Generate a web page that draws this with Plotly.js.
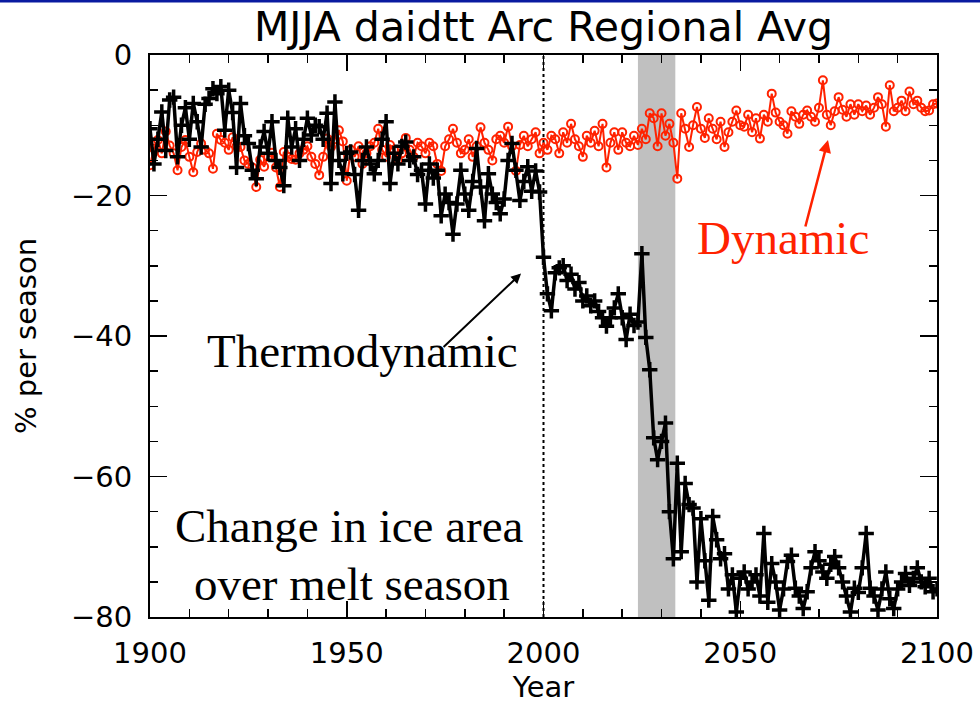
<!DOCTYPE html>
<html>
<head>
<meta charset="utf-8">
<script src="https://cdn.plot.ly/plotly-3.0.1.min.js"></script>
<style>
html,body{margin:0;padding:0;background:#fff;}
#chart{width:980px;height:704px;}
</style>
</head>
<body>
<div id="chart"></div>
<script>
// Years 1900..2100
var years = [];
for (var yr = 1900; yr <= 2100; yr++) { years.push(yr); }

// Thermodynamic (black), % per season
var thermo = [
  -10.5, -15.5, -12.0, -8.1, -13.6, -6.4, -6.0, -14.5, -10.0, -7.5,
  -12.0, -6.9, -9.5, -13.1, -7.0, -6.2, -4.8, -5.5, -4.5, -10.7,
  -5.0, -8.2, -16.0, -6.9, -11.5, -12.6, -16.4, -17.6, -13.1, -10.9,
  -14.0, -9.5, -15.0, -16.0, -18.6, -9.0, -13.1, -10.5, -15.0, -12.0,
  -9.0, -11.4, -10.0, -10.2, -12.0, -8.3, -18.3, -6.7, -15.0, -16.9,
  -14.0, -13.8, -17.0, -22.1, -15.0, -13.1, -15.5, -16.9, -15.0, -12.0,
  -9.5, -18.3, -14.0, -15.5, -13.0, -12.4, -15.0, -14.5, -17.0, -16.4,
  -21.2, -15.5, -17.5, -16.4, -22.9, -19.8, -21.0, -25.5, -21.2, -16.4,
  -19.8, -22.1, -18.0, -13.3, -18.8, -23.6, -16.9, -19.8, -21.0, -22.6,
  -20.5, -15.0, -12.6, -16.4, -20.7, -18.0, -15.9, -19.4, -16.5, -19.5,
  -28.8, -34.0, -36.4, -31.0, -30.3, -30.0, -32.1, -31.2, -33.3, -32.4,
  -35.0, -34.3, -35.7, -35.0, -36.5, -37.4, -38.6, -37.4, -36.0, -34.0,
  -37.4, -40.5, -36.9, -38.5, -38.0, -28.3, -40.2, -44.8, -54.5, -57.6,
  -55.0, -52.4, -65.0, -71.7, -58.1, -70.7, -61.0, -64.0, -64.5, -75.0,
  -66.0, -72.0, -77.6, -65.7, -69.0, -71.7, -71.0, -76.0, -74.0, -79.3,
  -74.5, -73.6, -76.0, -75.0, -74.0, -77.0, -68.1, -77.9, -72.4, -75.0,
  -79.0, -76.0, -72.1, -71.2, -75.9, -77.0, -78.8, -76.4, -73.0, -70.7,
  -72.0, -73.6, -74.5, -72.5, -71.4, -73.0, -75.0, -77.0, -79.3, -75.9,
  -76.5, -73.0, -68.1, -75.9, -77.0, -79.0, -76.0, -73.6, -77.4, -78.8,
  -76.0, -75.0, -73.8, -75.5, -74.5, -73.0, -75.0, -75.7, -74.5, -76.4,
  -76.0
];

// Dynamic (red), % per season
var dynamic = [
  -15.7, -13.3, -12.1, -14.0, -10.9, -12.9, -14.0, -16.4, -13.1, -12.1,
  -14.5, -16.7, -13.8, -12.6, -13.5, -14.0, -16.2, -11.2, -12.1, -12.5,
  -13.5, -11.7, -13.0, -13.1, -15.0, -15.5, -16.0, -18.8, -14.9, -15.9,
  -14.5, -13.9, -16.0, -18.8, -13.8, -14.5, -14.8, -14.9, -14.0, -13.5,
  -13.0, -14.5, -15.5, -17.1, -14.5, -11.9, -13.1, -12.0, -10.7, -12.3,
  -17.9, -13.5, -14.5, -13.0, -15.5, -14.0, -13.0, -12.5, -10.5, -13.5,
  -14.5, -12.8, -13.5, -15.0, -14.0, -11.8, -13.5, -14.5, -12.5, -13.0,
  -14.0, -12.5, -13.0, -15.5, -16.5, -13.0, -12.0, -10.5, -12.5, -14.0,
  -13.5, -12.0, -14.5, -13.0, -10.3, -12.5, -13.5, -15.0, -12.0, -11.5,
  -12.5, -10.2, -13.0, -16.5, -12.8, -11.5, -13.0, -12.0, -11.0, -14.0,
  -12.5, -13.5, -11.5, -12.0, -14.0, -11.0, -12.5, -9.8, -12.0, -13.0,
  -14.5, -11.5, -12.5, -10.8, -13.0, -9.8, -16.0, -12.5, -11.0, -13.5,
  -11.0, -12.5, -13.0, -11.5, -12.8, -10.5, -12.0, -8.3, -9.0, -13.0,
  -8.3, -11.5, -9.8, -12.5, -17.6, -8.3, -10.5, -13.1, -10.0, -7.4,
  -10.5, -11.8, -9.0, -10.5, -12.0, -9.5, -13.1, -11.0, -9.5, -7.9,
  -10.0, -10.2, -8.5, -11.0, -9.0, -11.9, -8.5, -9.5, -5.5, -8.2,
  -9.5, -10.0, -11.2, -8.0, -8.8, -9.8, -8.5, -7.9, -8.8, -9.5,
  -7.5, -3.6, -8.5, -10.0, -8.0, -6.0, -7.8, -8.8, -7.0, -8.5,
  -7.0, -8.0, -7.2, -8.5, -7.5, -6.0, -7.0, -10.2, -4.3, -8.0,
  -7.5, -6.5, -8.0, -5.2, -7.0, -6.5, -7.5, -8.0, -7.9, -7.0,
  -6.9
];

var xTickVals = [1900, 1950, 2000, 2050, 2100];
var xTickText = ['1900', '1950', '2000', '2050', '2100'];
var yTickVals = [0, -20, -40, -60, -80];
var yTickText = ['0', '\u221220', '\u221240', '\u221260', '\u221280'];

var bandStart = 2024, bandEnd = 2033.5;
var markYear = 2000;

var RED = '#ff2200';
var AXFONT = {family: 'DejaVu Sans', size: 29, color: '#000'};
var SERIF = 'Liberation Serif, Times New Roman, serif';

var traces = [
  {
    x: years, y: dynamic, type: 'scatter', mode: 'lines+markers', name: 'Dynamic',
    line: {color: RED, width: 2},
    marker: {symbol: 'circle-open', size: 8, color: RED, line: {color: RED, width: 2}},
    cliponaxis: true
  },
  {
    x: years, y: thermo, type: 'scatter', mode: 'lines+markers', name: 'Thermodynamic',
    line: {color: '#000', width: 3.5},
    marker: {symbol: 'cross-thin-open', size: 11, color: '#000', line: {color: '#000', width: 3.5}},
    cliponaxis: true
  }
];

var layout = {
  width: 980, height: 704,
  margin: {l: 150, r: 43, t: 55, b: 87},
  paper_bgcolor: '#fff', plot_bgcolor: '#fff',
  showlegend: false,
  title: {
    text: 'MJJA daidtt Arc Regional Avg',
    font: {family: 'DejaVu Sans', size: 41, color: '#000'},
    x: 0.5, xref: 'paper', xanchor: 'center',
    y: 0.962, yref: 'container', yanchor: 'middle'
  },
  xaxis: {
    range: [1900, 2100], showgrid: false, zeroline: false,
    showline: true, linecolor: '#000', linewidth: 2, mirror: 'ticks',
    ticks: 'inside', ticklen: 16, tickwidth: 1.5, tickcolor: '#000',
    tickvals: xTickVals, ticktext: xTickText,
    tickfont: AXFONT, ticklabelstandoff: 9,
    minor: {dtick: 10, tick0: 1900, ticks: 'inside', ticklen: 8, tickwidth: 1.5, tickcolor: '#000', showgrid: false},
    title: {text: 'Year', font: AXFONT, standoff: 14}
  },
  yaxis: {
    range: [-80, 0], showgrid: false, zeroline: false,
    showline: true, linecolor: '#000', linewidth: 2, mirror: 'ticks',
    ticks: 'inside', ticklen: 17, tickwidth: 1.5, tickcolor: '#000',
    tickvals: yTickVals, ticktext: yTickText,
    tickfont: AXFONT, ticklabelstandoff: 10,
    minor: {dtick: 5, tick0: 0, ticks: 'inside', ticklen: 8, tickwidth: 1.5, tickcolor: '#000', showgrid: false},
    title: {text: '% per season', font: AXFONT, standoff: 26}
  },
  shapes: [
    {type: 'rect', xref: 'x', yref: 'paper', x0: bandStart, x1: bandEnd, y0: 0, y1: 1,
     fillcolor: '#c0c0c0', line: {width: 0}, layer: 'below'},
    {type: 'line', xref: 'x', yref: 'paper', x0: markYear, x1: markYear, y0: 0, y1: 1,
     line: {color: '#000', width: 2, dash: 'dot'}, layer: 'below'},
    {type: 'rect', xref: 'paper', yref: 'paper', x0: -0.2, x1: 1.1, y0: 1.0935, y1: 1.11,
     fillcolor: '#0a1aa0', line: {width: 0}}
  ],
  annotations: [
    {x: 1953.9, y: -42.1, xref: 'x', yref: 'y', text: 'Thermodynamic', showarrow: false,
     font: {family: SERIF, size: 47, color: '#000'}},
    {x: 2060.9, y: -26.1, xref: 'x', yref: 'y', text: 'Dynamic', showarrow: false,
     font: {family: SERIF, size: 47, color: RED}},
    {x: 1950.8, y: -67.1, xref: 'x', yref: 'y', text: 'Change in ice area', showarrow: false,
     font: {family: SERIF, size: 47, color: '#000'}},
    {x: 1951.3, y: -75.3, xref: 'x', yref: 'y', text: 'over melt season', showarrow: false,
     font: {family: SERIF, size: 47, color: '#000'}},
    {x: 1994.3, y: -31.1, xref: 'x', yref: 'y', text: '', showarrow: true,
     ax: -79, ay: 75, arrowhead: 2, arrowsize: 1, arrowwidth: 2, arrowcolor: '#000'},
    {x: 2072.3, y: -12.1, xref: 'x', yref: 'y', text: '', showarrow: true,
     ax: -23, ay: 88, arrowhead: 2, arrowsize: 1, arrowwidth: 2.5, arrowcolor: RED}
  ]
};

Plotly.newPlot('chart', traces, layout, {displayModeBar: false, staticPlot: true});
</script>
</body>
</html>
